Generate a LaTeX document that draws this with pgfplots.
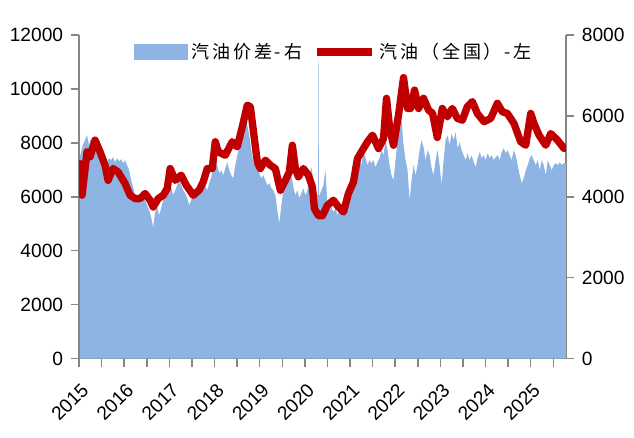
\documentclass[border=0pt]{standalone}
\usepackage{pgfplots}
\pgfplotsset{compat=1.18}
\usepackage{pgfplotstable}
\usepackage{fontspec}
\setmainfont{Liberation Sans}
\newfontfamily\cjk[LetterSpace=16]{Noto Sans CJK SC}
\definecolor{areablue}{RGB}{142,180,227}
\definecolor{linered}{RGB}{192,0,0}
\definecolor{axgray}{RGB}{134,134,134}

\pgfplotstableread{
x y
0.0000 4904
0.0443 5100
0.0887 5300
0.1330 5400
0.1774 5524
0.2217 5276
0.2661 5449
0.3104 5152
0.3548 5400
0.3991 5276
0.4435 5152
0.4878 5028
0.5322 4904
0.5765 4781
0.6208 4855
0.6652 4954
0.7095 4904
0.7539 4979
0.7982 4855
0.8426 4954
0.8869 4880
0.9313 4929
0.9756 4830
1.0200 4904
1.0643 4781
1.1086 4657
1.1530 4409
1.1973 4236
1.2417 4037
1.2860 3963
1.3304 3914
1.3747 3840
1.4191 3963
1.4634 3914
1.5078 3790
1.5521 3666
1.5965 3493
1.6408 3245
1.6851 3616
1.7295 3740
1.7738 3542
1.8182 3716
1.8625 3914
1.9069 4161
1.9512 4409
1.9956 4285
2.0399 4211
2.0843 4037
2.1286 4161
2.1729 4285
2.2173 4409
2.2616 4285
2.3060 4161
2.3503 4087
2.3947 3963
2.4390 3790
2.4834 3914
2.5277 4112
2.5721 4037
2.6164 4161
2.6608 4211
2.7051 4112
2.7494 4236
2.7938 4285
2.8381 4161
2.8825 4335
2.9268 4483
2.9712 4706
3.0155 4904
3.0599 4781
3.1042 4582
3.1486 4657
3.1929 4533
3.2373 4706
3.2816 4855
3.3259 4657
3.3703 4533
3.4146 4459
3.4590 4781
3.5033 5028
3.5477 5226
3.5920 5400
3.6364 5697
3.6807 5895
3.7251 5771
3.7694 5524
3.8137 5152
3.8581 4830
3.9024 4781
3.9468 4657
3.9911 4582
4.0355 4459
4.0798 4533
4.1242 4409
4.1685 4285
4.2129 4335
4.2572 4211
4.3016 4161
4.3459 4037
4.3902 3666
4.4346 3344
4.4789 3790
4.5233 4161
4.5676 4409
4.6120 4607
4.6563 4781
4.7007 4533
4.7450 4236
4.7894 4037
4.8337 4161
4.8780 3963
4.9224 4087
4.9667 4211
5.0111 4037
5.0554 4161
5.0998 4533
5.1441 4731
5.1885 4409
5.2328 4161
5.2772 4037
5.2900 4037
5.2960 7381
5.3030 7381
5.3090 4037
5.3215 4037
5.3659 4161
5.4102 4285
5.4545 4657
5.4989 3840
5.5432 3666
5.5876 3740
5.6319 3616
5.6763 3716
5.7206 3542
5.7650 3666
5.8093 3592
5.8537 3616
5.8980 3716
5.9424 3790
5.9867 3914
6.0310 4037
6.0754 4161
6.1197 4781
6.1641 4904
6.2084 4954
6.2528 4781
6.2971 5152
6.3415 4954
6.3858 4781
6.4302 4904
6.4745 4830
6.5188 4904
6.5632 4731
6.6075 4855
6.6519 4954
6.6962 5152
6.7406 5028
6.7849 5400
6.8293 5152
6.8736 4781
6.9180 4533
6.9623 4409
7.0067 4904
7.0510 5400
7.0953 5648
7.1397 5895
7.1840 5276
7.2284 4904
7.2727 4657
7.3171 3914
7.3614 4409
7.4058 4781
7.4501 4533
7.4945 4781
7.5388 5152
7.5831 5400
7.6275 5226
7.6718 4904
7.7162 5152
7.7605 5028
7.8049 4706
7.8492 4533
7.8936 4904
7.9379 5152
7.9823 4781
8.0266 4285
8.0710 4904
8.1153 5400
8.1596 5524
8.2040 5276
8.2483 5573
8.2927 5400
8.3370 5598
8.3814 5201
8.4257 5350
8.4701 5152
8.5144 5028
8.5588 4904
8.6031 5078
8.6475 4904
8.6918 5028
8.7361 4855
8.7805 4731
8.8248 4954
8.8692 5102
8.9135 4954
8.9579 5028
9.0022 4904
9.0466 5078
9.0909 4954
9.1353 5028
9.1796 4904
9.2239 4979
9.2683 5028
9.3126 4904
9.3570 5102
9.4013 5201
9.4457 5078
9.4900 5152
9.5344 5028
9.5787 4904
9.6231 5152
9.6674 5028
9.7118 4781
9.7561 4533
9.8004 4335
9.8448 4459
9.8891 4657
9.9335 4781
9.9778 4954
10.0222 5028
10.0665 4904
10.1109 4781
10.1552 4904
10.1996 4657
10.2439 4904
10.2882 4781
10.3326 4533
10.3769 4904
10.4213 4781
10.4656 4657
10.5100 4781
10.5543 4830
10.5987 4781
10.6430 4855
10.6874 4781
10.7317 4830
10.7800 4830
}\spread

\pgfplotstableread{
x y
0.022 7230
0.0665 6055
0.177 7665
0.244 7480
0.355 8100
0.466 7665
0.576 7170
0.643 6610
0.754 7045
0.865 6920
1.020 6490
1.131 6055
1.242 5930
1.353 5930
1.463 6120
1.574 5870
1.641 5620
1.752 5930
1.863 6055
1.951 6300
2.018 7045
2.129 6610
2.262 6800
2.373 6430
2.528 6055
2.661 6250
2.749 6550
2.838 7045
2.949 7045
3.016 8040
3.082 7665
3.237 7540
3.392 8040
3.503 7850
3.614 8590
3.725 9400
3.792 9340
3.858 8470
3.947 7290
4.013 7045
4.124 7355
4.235 7170
4.346 7045
4.457 6240
4.568 6610
4.656 6920
4.723 7910
4.789 7045
4.856 6740
4.967 7045
5.078 6800
5.166 6365
5.211 5560
5.299 5300
5.388 5300
5.499 5680
5.632 5870
5.743 5620
5.854 5435
5.964 6120
6.075 6550
6.164 7420
6.275 7730
6.386 8040
6.497 8285
6.630 7790
6.741 8160
6.807 9650
6.874 8590
6.962 7910
7.073 9030
7.184 10420
7.273 9275
7.339 9275
7.428 9955
7.517 9275
7.627 9650
7.738 9215
7.827 9090
7.931 8200
8.042 9275
8.153 8965
8.264 9275
8.375 8905
8.486 8840
8.596 9340
8.707 9530
8.818 9090
8.965 8785
9.113 8905
9.261 9465
9.372 9150
9.483 9090
9.630 8715
9.778 8040
9.889 7910
10.000 9090
10.073 8715
10.184 8285
10.333 7910
10.443 8345
10.592 8100
10.738 7790
}\price

\begin{document}
\begin{tikzpicture}
\begin{axis}[
  name=ax1,
  scale only axis, width=292pt, height=194pt,
  xmin=0, xmax=10.78, ymin=0, ymax=8000,
  axis y line*=right, axis x line*=bottom,
  axis line style={axgray, line width=0.9pt},
  tick style={axgray, line width=0.9pt},
  tick align=outside,
  major tick length=5pt, minor tick length=5pt,
  xtick={0,1,...,10},
  xticklabels={2015,2016,2017,2018,2019,2020,2021,2022,2023,2024,2025},
  minor xtick={0.5,1.5,...,10.5},
  ytick={0,2000,4000,6000,8000},
  scaled y ticks=false,
  /pgf/number format/1000 sep={},
  /pgf/number format/assume math mode=true,
  yticklabel style={font=\fontsize{11.5}{13}\selectfont, xshift=1pt},
  xticklabel style={font=\fontsize{11.5}{13}\selectfont, rotate=45, anchor=east, yshift=-11pt, xshift=-2.5pt},
  clip=false,
]
\addplot[fill=areablue, draw=none] table[x=x, y=y] {\spread} \closedcycle;
\end{axis}
\begin{axis}[
  scale only axis, width=292pt, height=194pt,
  xmin=0, xmax=10.78, ymin=0, ymax=12000,
  axis y line*=left, hide x axis,
  axis line style={axgray, line width=0.9pt},
  tick style={axgray, line width=0.9pt},
  tick align=outside,
  major tick length=5pt,
  ytick={0,2000,4000,6000,8000,10000,12000},
  scaled y ticks=false,
  /pgf/number format/1000 sep={},
  /pgf/number format/assume math mode=true,
  yticklabel style={font=\fontsize{11.5}{13}\selectfont, xshift=-1pt},
  legend style={draw=none, fill=none, at={(0.525,0.947)}, anchor=center,
    font=\cjk\fontsize{10.8}{12}\selectfont,
    /tikz/every even column/.append style={column sep=5pt}},
  legend columns=2,
  legend cell align=left,
]
\addlegendimage{legend image code/.code={\fill[areablue] (0pt,-4.5pt) rectangle (32pt,4.5pt);}}
\addlegendentry{汽油价差-右}
\addlegendimage{legend image code/.code={\draw[linered, line width=4.4pt] (0pt,0pt) -- (33pt,0pt);}}
\addlegendentry{汽油（全国）-左}
\addplot[linered, line width=4.4pt, line join=round, line cap=round, forget plot] table[x=x, y=y] {\price};
\end{axis}
\path ([shift={(-47.4pt,-47.4pt)}]ax1.south west) rectangle ([shift={(40.8pt,21pt)}]ax1.north east);
\end{tikzpicture}
\end{document}
